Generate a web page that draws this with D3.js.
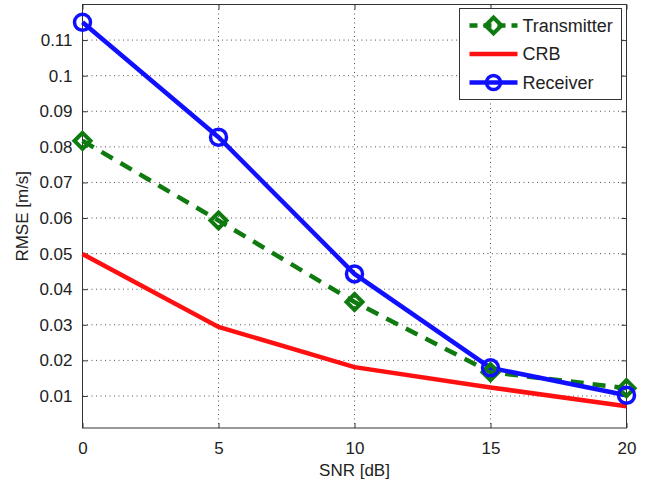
<!DOCTYPE html>
<html>
<head>
<meta charset="utf-8">
<script src="https://cdn.jsdelivr.net/npm/d3@7"></script>
<style>
  html, body { margin: 0; padding: 0; background: #fff; }
  svg { display: block; font-family: "Liberation Sans", Arial, Helvetica, sans-serif; }
</style>
</head>
<body>
<svg id="chart" width="649" height="484"></svg>
<script>
// SNR sweep and RMSE of the velocity estimate
const snr = [0, 5, 10, 15, 20];
const transmitter = [0.0817, 0.0593, 0.0364, 0.0167, 0.0122];
const crb = [0.0499, 0.0294, 0.0181, 0.0124, 0.0071];
const receiver = [0.1150, 0.0827, 0.0443, 0.0179, 0.0102];

const xTicks = [0, 5, 10, 15, 20];
const yTicks = [0.01, 0.02, 0.03, 0.04, 0.05, 0.06, 0.07, 0.08, 0.09, 0.1, 0.11];
const seriesNames = ["Transmitter", "CRB", "Receiver"];

const svg = d3.select("#chart");
const margin = { left: 82.5, right: 22.5, top: 4.5, bottom: 56 };
const W = 649, H = 484;
const iw = W - margin.left - margin.right;
const ih = H - margin.top - margin.bottom;

const x = d3.scaleLinear().domain([0, 20]).range([0, iw]);
const y = d3.scaleLinear().domain([0.001, 0.12]).range([ih, 0]);

const g = svg.append("g").attr("transform", `translate(${margin.left},${margin.top})`);

// dotted grid
const grid = g.append("g").attr("class", "grid");
grid.selectAll("line.gx").data(xTicks.slice(1, -1)).enter().append("line")
  .attr("x1", d => x(d)).attr("x2", d => x(d)).attr("y1", 0).attr("y2", ih)
  .attr("stroke", "#555").attr("stroke-width", 1).attr("stroke-dasharray", "1,3.5");
grid.selectAll("line.gy").data(yTicks).enter().append("line")
  .attr("x1", 0).attr("x2", iw).attr("y1", d => y(d)).attr("y2", d => y(d))
  .attr("stroke", "#555").attr("stroke-width", 1).attr("stroke-dasharray", "1,3.5");

// axes with inward ticks on all four sides
const tickLen = 5;
const axB = g.append("g").attr("transform", `translate(0,${ih})`)
  .call(d3.axisBottom(x).tickValues(xTicks).tickSizeInner(-tickLen).tickSizeOuter(0).tickPadding(14));
const axL = g.append("g")
  .call(d3.axisLeft(y).tickValues(yTicks).tickFormat(d => d3.format("")(+d.toFixed(2))).tickSizeInner(-tickLen).tickSizeOuter(0).tickPadding(10));
const axT = g.append("g")
  .call(d3.axisTop(x).tickValues(xTicks).tickSizeInner(-tickLen).tickSizeOuter(0).tickFormat(""));
const axR = g.append("g").attr("transform", `translate(${iw},0)`)
  .call(d3.axisRight(y).tickValues(yTicks).tickSizeInner(-tickLen).tickSizeOuter(0).tickFormat(""));

[axB, axL, axT, axR].forEach(a => {
  a.select(".domain").remove();
  a.selectAll("line").attr("stroke", "#333");
  a.selectAll("text").attr("fill", "#222").style("font-size", "17px")
    .style("font-family", "'Liberation Sans', Arial, Helvetica, sans-serif");
});

g.append("rect").attr("x", 0).attr("y", 0).attr("width", iw).attr("height", ih)
  .attr("fill", "none").attr("stroke", "#333").attr("stroke-width", 1);

// data lines
const line = d3.line().x((d, i) => x(snr[i])).y(d => y(d));
const green = "#0f7a0f", red = "#ff1010", blue = "#1010ff";

g.append("path").datum(crb).attr("d", line)
  .attr("fill", "none").attr("stroke", red).attr("stroke-width", 4.5);

g.append("path").datum(transmitter).attr("d", line)
  .attr("fill", "none").attr("stroke", green).attr("stroke-width", 4.5)
  .attr("stroke-dasharray", "13,9");

g.append("path").datum(receiver).attr("d", line)
  .attr("fill", "none").attr("stroke", blue).attr("stroke-width", 4.5);

// markers
const diamond = (cx, cy, r) => `M${cx},${cy - r}L${cx + r},${cy}L${cx},${cy + r}L${cx - r},${cy}Z`;
g.selectAll("path.tm").data(transmitter).enter().append("path")
  .attr("d", (d, i) => diamond(x(snr[i]), y(d), 8))
  .attr("fill", "none").attr("stroke", green).attr("stroke-width", 4);

g.selectAll("circle.rm").data(receiver).enter().append("circle")
  .attr("cx", (d, i) => x(snr[i])).attr("cy", d => y(d)).attr("r", 8)
  .attr("fill", "none").attr("stroke", blue).attr("stroke-width", 3.5);

// axis titles
svg.append("text").attr("x", margin.left + iw / 2).attr("y", 476)
  .attr("text-anchor", "middle").style("font-size", "17px").attr("fill", "#222").text("SNR [dB]");
svg.append("text").attr("transform", `translate(28,${margin.top + ih / 2}) rotate(-90)`)
  .attr("text-anchor", "middle").style("font-size", "17px").attr("fill", "#222").text("RMSE [m/s]");

// legend
const lg = svg.append("g").attr("transform", "translate(459.5,8.5)");
lg.append("rect").attr("width", 162).attr("height", 91)
  .attr("fill", "#fff").attr("stroke", "#333").attr("stroke-width", 1);
const rows = [
  { name: seriesNames[0], color: green, dash: "8,6", marker: "diamond" },
  { name: seriesNames[1], color: red, dash: null, marker: null },
  { name: seriesNames[2], color: blue, dash: null, marker: "circle" }
];
rows.forEach((r, i) => {
  const cy = 17 + i * 28.5;
  const ln = lg.append("line").attr("x1", 10).attr("x2", 58).attr("y1", cy).attr("y2", cy)
    .attr("stroke", r.color).attr("stroke-width", 4.5);
  if (r.dash) ln.attr("stroke-dasharray", r.dash);
  if (r.marker === "diamond") {
    lg.append("path").attr("d", diamond(34, cy, 8)).attr("fill", "none")
      .attr("stroke", r.color).attr("stroke-width", 4);
  } else if (r.marker === "circle") {
    lg.append("circle").attr("cx", 34).attr("cy", cy).attr("r", 7)
      .attr("fill", "none").attr("stroke", r.color).attr("stroke-width", 3.5);
  }
  lg.append("text").attr("x", 63).attr("y", cy).attr("dy", "0.36em")
    .style("font-size", "18px").attr("fill", "#222").text(r.name);
});
</script>
</body>
</html>
